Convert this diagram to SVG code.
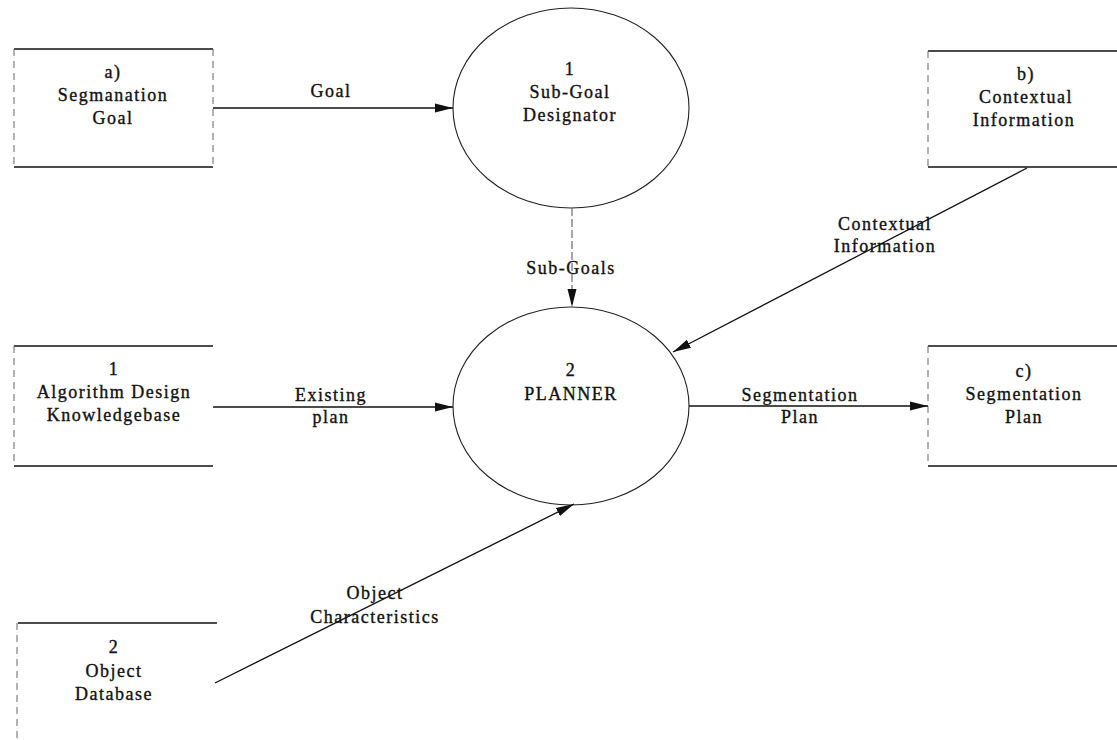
<svg xmlns="http://www.w3.org/2000/svg" width="1117" height="740" viewBox="0 0 1117 740">
  <defs>
    <marker id="arrow" markerUnits="userSpaceOnUse" markerWidth="18" markerHeight="10" refX="18" refY="5" orient="auto">
      <path d="M0,0.5 L18,5 L0,9.5 z" fill="#111"/>
    </marker>
    <style>
      text { font-family: "Liberation Serif", "Times New Roman", serif; font-size: 18px; letter-spacing: 1.5px; fill: #111; stroke: #111; stroke-width: 0.35px; text-anchor: middle; }
      .edge { stroke: #111; stroke-width: 1.6; fill: none; }
      .side { stroke: #666; stroke-width: 1; stroke-dasharray: 7 5; fill: none; }
      .proc { fill: none; stroke: #222; stroke-width: 1.1; }
      .flow { stroke: #111; stroke-width: 1.3; fill: none; marker-end: url(#arrow); }
      .dash { stroke: #777; stroke-dasharray: 8 3; }
    </style>
  </defs>

  <rect width="1117" height="740" fill="#fff"/>

  <!-- external entities -->
  <g id="ext-a">
    <line class="edge" x1="14" y1="49" x2="213" y2="49"/>
    <line class="edge" x1="14" y1="167" x2="213" y2="167"/>
    <line class="side" x1="14" y1="49" x2="14" y2="167"/>
    <line class="side" x1="213" y1="49" x2="213" y2="167"/>
    <text x="113" y="78">a)</text>
    <text x="113" y="101">Segmanation</text>
    <text x="113" y="124">Goal</text>
  </g>

  <g id="ext-b">
    <line class="edge" x1="928" y1="51" x2="1117" y2="51"/>
    <line class="edge" x1="928" y1="167" x2="1117" y2="167"/>
    <line class="side" x1="928" y1="51" x2="928" y2="167"/>
    <text x="1026" y="80">b)</text>
    <text x="1026" y="103">Contextual</text>
    <text x="1024" y="126">Information</text>
  </g>

  <g id="ext-c">
    <line class="edge" x1="928" y1="346" x2="1117" y2="346"/>
    <line class="edge" x1="928" y1="466" x2="1117" y2="466"/>
    <line class="side" x1="928" y1="346" x2="928" y2="466"/>
    <text x="1024" y="377">c)</text>
    <text x="1024" y="400">Segmentation</text>
    <text x="1024" y="423">Plan</text>
  </g>

  <!-- data stores -->
  <g id="store-1">
    <line class="edge" x1="14" y1="346" x2="213" y2="346"/>
    <line class="edge" x1="14" y1="466" x2="213" y2="466"/>
    <line class="side" x1="14" y1="346" x2="14" y2="466"/>
    <text x="114" y="375">1</text>
    <text x="114" y="398">Algorithm Design</text>
    <text x="114" y="421">Knowledgebase</text>
  </g>

  <g id="store-2">
    <line class="edge" x1="18" y1="623" x2="217" y2="623"/>
    <line class="side" x1="17" y1="623" x2="17" y2="740"/>
    <text x="114" y="653">2</text>
    <text x="114" y="677">Object</text>
    <text x="114" y="700">Database</text>
  </g>

  <!-- processes -->
  <g id="proc-1">
    <ellipse class="proc" cx="571" cy="108" rx="118" ry="100"/>
    <text x="570" y="75">1</text>
    <text x="570" y="98">Sub-Goal</text>
    <text x="570" y="121">Designator</text>
  </g>

  <g id="proc-2">
    <ellipse class="proc" cx="571" cy="406" rx="118" ry="99"/>
    <text x="571" y="376">2</text>
    <text x="571" y="400">PLANNER</text>
  </g>

  <!-- data flows -->
  <g id="flows">
    <line class="flow" x1="213" y1="108" x2="453" y2="108"/>
    <line class="flow dash" x1="572" y1="208" x2="572" y2="307"/>
    <line class="flow" x1="1027" y1="168" x2="673" y2="352"/>
    <line class="flow" x1="213" y1="407" x2="453" y2="407"/>
    <line class="flow" x1="689" y1="406" x2="928" y2="406"/>
    <line class="flow" x1="215" y1="683" x2="574" y2="504"/>

    <text x="331" y="97">Goal</text>
    <text x="571" y="274">Sub-Goals</text>
    <text x="885" y="230">Contextual</text>
    <text x="885" y="252">Information</text>
    <text x="331" y="401">Existing</text>
    <text x="331" y="423">plan</text>
    <text x="800" y="401">Segmentation</text>
    <text x="800" y="423">Plan</text>
    <text x="375" y="599">Object</text>
    <text x="375" y="623">Characteristics</text>
  </g>
</svg>
